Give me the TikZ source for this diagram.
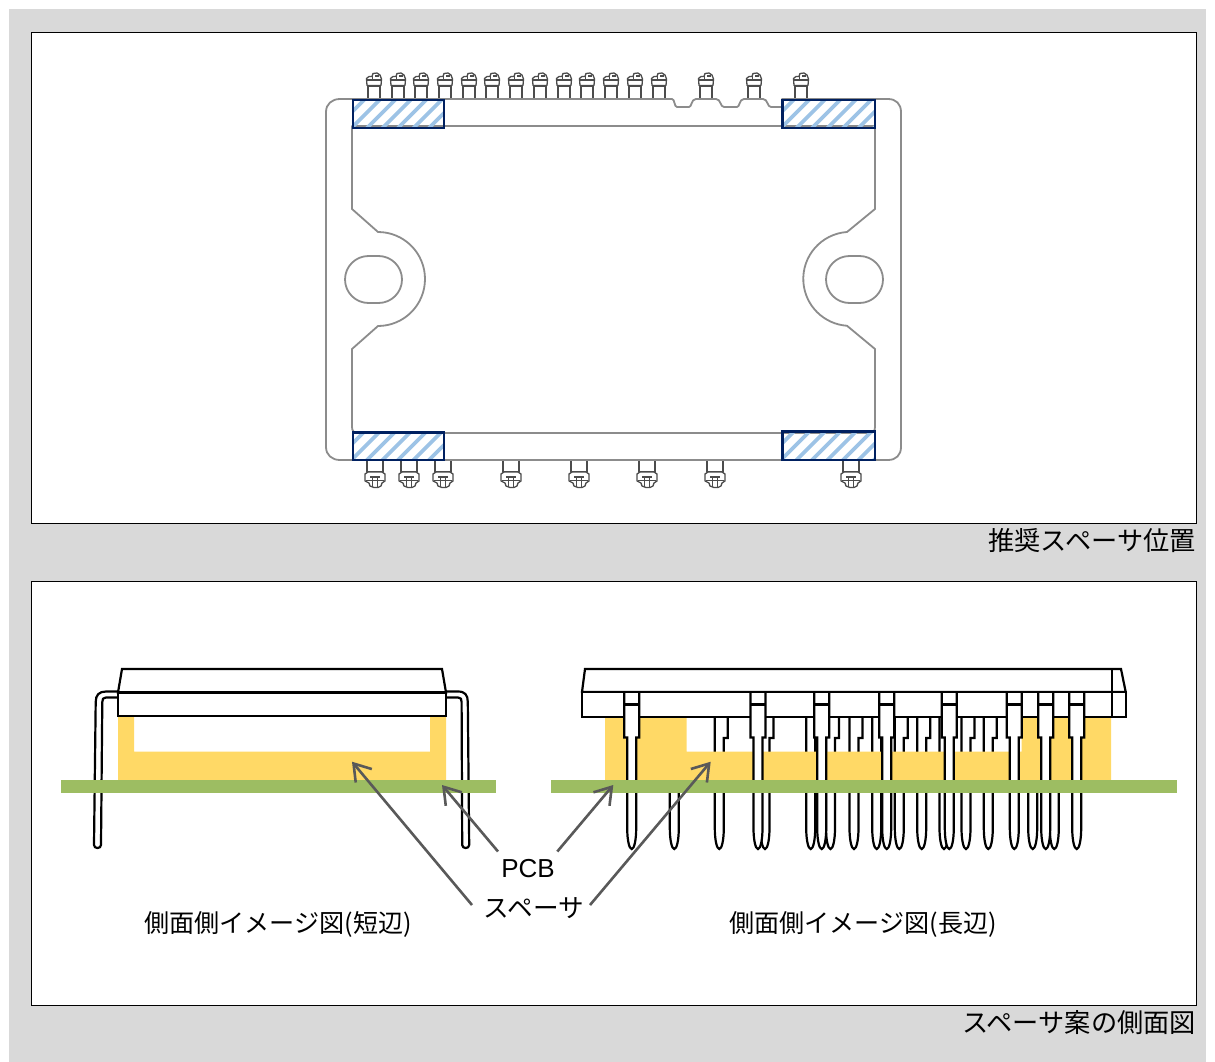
\documentclass[tikz,border=0pt]{standalone}
\usepackage{fontspec}
\setmainfont{Liberation Sans}
\newfontfamily\cjk{Noto Sans CJK JP}
\usetikzlibrary{arrows.meta}
\definecolor{bggray}{HTML}{D9D9D9}
\definecolor{outl}{HTML}{8C8C8C}
\definecolor{navyb}{HTML}{002060}
\definecolor{hatchb}{HTML}{9DC3E6}
\definecolor{spacer}{HTML}{FFD966}
\definecolor{pcbg}{HTML}{9DBD62}
\definecolor{arrowg}{HTML}{595959}
\tikzset{
  x=1pt,y=-1pt,
  panel/.style={draw=black,line width=0.8pt,fill=white},
  contour/.style={draw=outl,line width=1.8pt,line join=round},
  pinline/.style={draw=black!70,line width=1.3pt,fill=white,line join=round},
  spacerbox/.style={draw=navyb,line width=2.4pt},
  hatchline/.style={draw=hatchb,line width=3.8pt},
  sideline/.style={draw=black,line width=2.2pt,fill=white,line join=miter},
  pointer/.style={draw=arrowg,line width=2.6pt,-{Straight Barb[length=16pt,width=21pt,line width=2.6pt]}},
  lbl/.style={font=\cjk\fontsize{25.1}{28}\selectfont,inner sep=0pt,anchor=center},
  splbl/.style={font=\cjk\fontsize{25.6}{28}\selectfont,inner sep=0pt,anchor=center},
  caplbl/.style={font=\cjk\fontsize{26.2}{28}\selectfont,inner sep=0pt,anchor=east},
  pcblbl/.style={font=\fontsize{26}{28}\selectfont,inner sep=0pt,anchor=center},
}
\newcommand{\toppin}[1]{%
  \begin{scope}[shift={(#1,0)}]
    \draw[pinline] (-6,99) -- (-6,86) -- (6,86) -- (6,99);
    \draw[pinline] (-7,85.5) -- (-7.5,78.5) -- (-5,76.5) -- (-2,76.5) -- (-1,73.5) -- (3,73) -- (6,75) -- (7.5,79) -- (7,85.5) -- cycle;
    \draw[draw=black!70,line width=1.1pt] (-7.5,80) -- (7.5,80) (-1.5,76.5) -- (-1.5,80) (1,76) -- (5,76);
  \end{scope}}
\newcommand{\botpin}[1]{%
  \begin{scope}[shift={(#1,0)}]
    \draw[pinline] (-8,460) -- (-8,472) -- (8,472) -- (8,460);
    \draw[pinline] (-7,472) -- (-10,474) -- (-10,481) -- (-6,483) -- (-5,486) -- (-1,487.5) -- (3,487.5) -- (6,486) -- (7,483) -- (10,481) -- (10,474) -- (7,472) -- cycle;
    \draw[draw=black!70,line width=1.1pt] (-9,480.5) -- (9,480.5) (-5,477) -- (5,477) (-2.5,477) -- (-2.5,487) (2.5,477) -- (2.5,487);
  \end{scope}}
\newcommand{\backpin}[1]{%
  \draw[sideline] (#1-4.5,717) -- (#1-4.5,828) .. controls (#1-4.5,840) and (#1-2.5,849) .. (#1,849) .. controls (#1+2.5,849) and (#1+4.5,840) .. (#1+4.5,828) -- (#1+4.5,738) -- (#1+8.5,738) -- (#1+8.5,717);}
\newcommand{\frontpin}[1]{%
  \draw[sideline] (#1-7.5,692) -- (#1-7.5,737.5) -- (#1-4.5,737.5) -- (#1-4.5,828) .. controls (#1-4.5,840) and (#1-2.5,849) .. (#1,849) .. controls (#1+2.5,849) and (#1+4.5,840) .. (#1+4.5,828) -- (#1+4.5,737.5) -- (#1+7.5,737.5) -- (#1+7.5,692);
  \draw[black,line width=3pt] (#1-7.5,704.5) -- (#1+7.5,704.5);}
\newcommand{\hatchbox}[4]{%
  \begin{scope}
    \clip (#1,#2) rectangle (#3,#4);
    \foreach \k in {0,1,...,7} {
      \draw[hatchline] (#1-20+\k*15.5,#4+3) -- (#1-20+\k*15.5+34,#4-31);
    }
  \end{scope}
  \draw[spacerbox] (#1,#2) rectangle (#3,#4);}
\begin{document}
\begin{tikzpicture}
\useasboundingbox (0,0) rectangle (1215,1062);
\fill[white] (0,0) rectangle (1215,1062);
\fill[bggray] (9,9) rectangle (1206,1062);
\draw[panel] (31.5,32.5) rectangle (1196,523);
\draw[panel] (31.5,581.5) rectangle (1196,1005);

% ---------- top view
\foreach \p in {374,398,421,445,469,492,516,540,564,587,611,635,659,706,754,801} {\toppin{\p}}
\foreach \p in {375,409,443,511,579,647,715,851} {\botpin{\p}}
\draw[contour,fill=white]
  (340,99) -- (672,99) .. controls (675,99) and (674,107) .. (677,107) -- (689,107)
  .. controls (692,107) and (691,99) .. (696,99) -- (716,99)
  .. controls (721,99) and (720,107) .. (724,107) -- (737,107)
  .. controls (740,107) and (739,99) .. (744,99) -- (763,99)
  .. controls (768,99) and (767,107) .. (771,107) -- (782,107) -- (782,99) -- (888,99)
  .. controls (896,99) and (901,104) .. (901,112) -- (901,447)
  .. controls (901,455) and (896,460) .. (888,460) -- (340,460)
  .. controls (332,460) and (326,455) .. (326,447) -- (326,112)
  .. controls (326,104) and (332,99) .. (340,99) -- cycle;
\draw[contour]
  (352,126) -- (875,126) -- (875,209) -- (847,232)
  arc[start angle=-94,end angle=-266,radius=47] -- (875,349)
  -- (875,427) .. controls (875,431) and (873,433) .. (869,433) -- (358,433)
  .. controls (354,433) and (352,431) .. (352,427) -- (352,349) -- (378,326)
  arc[start angle=90,end angle=-90,radius=47] -- (352,209) -- cycle;
\draw[contour] (368.5,256) -- (378.5,256) arc[start angle=-90,end angle=90,radius=23.5] -- (368.5,303) arc[start angle=90,end angle=270,radius=23.5] -- cycle;
\draw[contour] (849.5,256) -- (859.5,256) arc[start angle=-90,end angle=90,radius=23.5] -- (849.5,303) arc[start angle=90,end angle=270,radius=23.5] -- cycle;
\hatchbox{353}{100}{444}{128}
\hatchbox{782.5}{100}{875}{128}
\hatchbox{353}{432.5}{444}{460}
\hatchbox{782.5}{431.5}{875}{460}
\node[caplbl] (caption1) at (1196,541) {推奨スペーサ位置};

% ---------- short side view
\draw[sideline,line join=round] (118,691.5) -- (106,691.5) .. controls (99,691.5) and (95.7,695) .. (95.7,702) -- (94,845) .. controls (94,849) and (101,849) .. (101,845) -- (102.3,702) .. controls (102.3,699) and (103,697.5) .. (106,697.5) -- (118,697.5);
\draw[sideline,line join=round] (446,691.5) -- (458,691.5) .. controls (465,691.5) and (467.8,695) .. (467.8,702) -- (469.2,845) .. controls (469.2,849) and (462.2,849) .. (462.2,845) -- (461.6,702) .. controls (461.6,699) and (461,697.5) .. (458,697.5) -- (446,697.5);
\fill[spacer,even odd rule] (118,716) rectangle (446,780) (134,716) rectangle (430,751.5);
\draw[sideline] (122,669) -- (442,669) -- (446,692.5) -- (118,692.5) -- cycle;
\draw[sideline] (118,692.5) rectangle (446,716);
\fill[pcbg] (60.5,779.5) rectangle (496,793);

% ---------- long side view
\foreach \p in {674.3,719.3,765,810.7,830.5,854,876.7,899.3,921.7,944,966,988.3,1032.7,1054.3} {\backpin{\p}}
\fill[spacer,even odd rule] (605,717) rectangle (1111,780) (686.7,717) rectangle (1021.7,751.5);
\draw[sideline] (585,669) -- (1121,669) -- (1125.7,692) -- (582,692) -- cycle;
\draw[sideline] (582,692) rectangle (1125.7,717);
\draw[black,line width=2.2pt] (1112,669) -- (1112,717);
\foreach \p in {631.7,758,821.7,886.7,949.3,1014.3,1045.7,1076.7} {\frontpin{\p}}
\draw[black,line width=2.2pt] (582,692) -- (1125.7,692);
\fill[pcbg] (550.5,779.5) rectangle (1176.5,793);

% ---------- labels and pointers
\node[pcblbl] (pcb) at (528,868.5) {PCB};
\node[splbl] (sp) at (534,908) {スペーサ};
\node[lbl] (shortlbl) at (278,924) {側面側イメージ図(短辺)};
\node[lbl] (longlbl) at (863,924) {側面側イメージ図(長辺)};
\node[caplbl] (caption2) at (1196,1022.5) {スペーサ案の側面図};
\coordinate (pcbL) at (498,851.5);
\coordinate (pcbR) at (557.3,851.5);
\coordinate (spL) at (472,905);
\coordinate (spR) at (590,905);
\coordinate (tipA) at (442,785);
\coordinate (tipB) at (352,761.7);
\coordinate (tipC) at (613.3,785);
\coordinate (tipD) at (710.7,761.7);
\draw[pointer] (pcbL) -- (tipA);
\draw[pointer] (pcbR) -- (tipC);
\draw[pointer] (spL) -- (tipB);
\draw[pointer] (spR) -- (tipD);
\end{tikzpicture}
\end{document}
